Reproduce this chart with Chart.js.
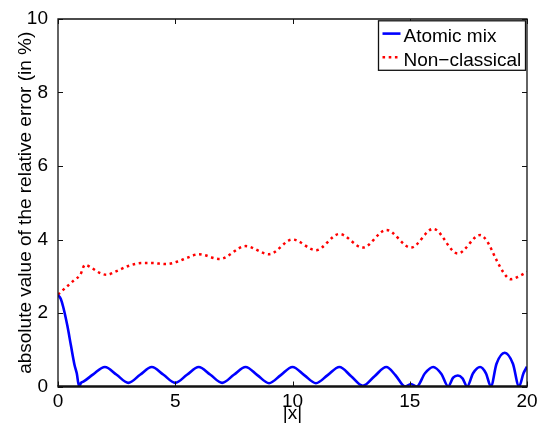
<!DOCTYPE html>
<html>
<head>
<meta charset="utf-8">
<script src="https://cdn.jsdelivr.net/npm/chart.js@4/dist/chart.umd.min.js"></script>
<style>
  html, body { margin: 0; padding: 0; background: #fff; }
  #wrap { width: 540px; height: 427px; }
</style>
</head>
<body>
<div id="wrap"><canvas id="chart" width="540" height="427"></canvas></div>
<script>
// atomic mix error curve
const atomicX = [0, 0.12, 0.22, 0.4, 0.55, 0.7, 0.8, 0.9, 0.98, 1.08, 1.5, 2, 2.5, 3, 3.5, 4, 4.5, 5, 5.5, 6, 6.5, 7, 7.5, 8,
  8.5, 9, 9.5, 10, 10.5, 11, 11.5, 12, 12.5, 13, 13.5, 14, 14.4, 14.8, 15.05, 15.3, 15.65, 16, 16.35, 16.64,
  16.85, 17.05, 17.25, 17.45, 17.7, 18, 18.25, 18.46, 18.7, 19.05, 19.4, 19.66, 19.85, 20];
const atomicY = [2.49, 2.38, 2.17, 1.65, 1.12, 0.6, 0.36, 0.0, 0.1, 0.13, 0.33, 0.53, 0.32, 0.1, 0.32, 0.53, 0.32, 0.1, 0.32, 0.53, 0.32, 0.1, 0.32, 0.53,
  0.31, 0.09, 0.31, 0.53, 0.31, 0.09, 0.31, 0.53, 0.28, 0.02, 0.28, 0.53, 0.3, 0.0, 0.07, 0.0, 0.36, 0.53, 0.34, 0.0,
  0.24, 0.3, 0.22, 0.0, 0.36, 0.53, 0.36, 0.0, 0.62, 0.92, 0.62, 0.0, 0.36, 0.54];

// non-classical error curve
const nonClassicalX = [0, 0.45, 0.7, 0.95, 1.15, 1.4, 1.75, 2.07, 2.5, 3, 3.6, 4, 4.6, 5.1, 5.5, 6, 6.9, 8, 9, 10, 11, 12,
  13, 14, 15.05, 16, 17.05, 18, 18.3, 18.7, 19, 19.3, 19.6, 20];
const nonClassicalY = [2.5, 2.76, 2.9, 3.04, 3.31, 3.24, 3.1, 3.04, 3.14, 3.28, 3.36, 3.36, 3.33, 3.4, 3.5, 3.6, 3.47, 3.82, 3.6, 4.0, 3.71, 4.15,
  3.78, 4.26, 3.78, 4.29, 3.62, 4.12, 3.95, 3.44, 3.1, 2.92, 2.98, 3.12];

const xTicks = [0, 5, 10, 15, 20];
const yTicks = [0, 2, 4, 6, 8, 10];

const FONT = "'Liberation Sans', Arial, Helvetica, sans-serif";

function toPoints(xs, ys) {
  return xs.map((x, i) => ({ x: x, y: ys[i] }));
}

// matlab-like box: frame, inward ticks on all sides, legend inside top right
const boxPlugin = {
  id: 'boxPlugin',
  afterDatasetsDraw(chart) {
    const ctx = chart.ctx;
    const a = chart.chartArea;
    const sx = chart.scales.x;
    const sy = chart.scales.y;
    const tl = 5;

    ctx.save();
    ctx.strokeStyle = '#111';
    ctx.lineWidth = 1.3;
    ctx.beginPath();
    ctx.moveTo(a.left, a.bottom);
    ctx.lineTo(a.left, a.top);
    ctx.lineTo(a.right, a.top);
    ctx.lineTo(a.right, a.bottom);
    ctx.stroke();

    ctx.lineWidth = 2.4;
    ctx.beginPath();
    ctx.moveTo(a.left - 0.6, a.bottom);
    ctx.lineTo(a.right + 0.6, a.bottom);
    ctx.stroke();

    ctx.lineWidth = 1;
    ctx.beginPath();
    xTicks.forEach((v) => {
      const px = Math.round(sx.getPixelForValue(v)) + 0.5;
      ctx.moveTo(px, a.bottom); ctx.lineTo(px, a.bottom - tl);
      ctx.moveTo(px, a.top); ctx.lineTo(px, a.top + tl);
    });
    yTicks.forEach((v) => {
      const py = Math.round(sy.getPixelForValue(v)) + 0.5;
      ctx.moveTo(a.left, py); ctx.lineTo(a.left + tl, py);
      ctx.moveTo(a.right, py); ctx.lineTo(a.right - tl, py);
    });
    ctx.stroke();

    // legend
    const bw = 147, bh = 49.5;
    const bx = a.right - 1.5 - bw;
    const by = a.top + 1.8;
    ctx.fillStyle = '#fff';
    ctx.fillRect(bx, by, bw, bh);
    ctx.strokeStyle = '#111';
    ctx.lineWidth = 1.3;
    ctx.strokeRect(bx, by, bw, bh);

    ctx.font = '19px ' + FONT;
    ctx.textBaseline = 'alphabetic';
    ctx.textAlign = 'left';
    chart.data.datasets.forEach((ds, i) => {
      const ly = by + 12.8 + i * 23.6;
      ctx.strokeStyle = ds.borderColor;
      ctx.lineWidth = ds.borderWidth;
      ctx.setLineDash(ds.borderDash || []);
      ctx.beginPath();
      ctx.moveTo(bx + 4, ly);
      ctx.lineTo(bx + 22, ly);
      ctx.stroke();
      ctx.setLineDash([]);
      ctx.fillStyle = '#000';
      ctx.fillText(ds.label, bx + 25, ly + 8.6);
    });
    ctx.restore();
  }
};

new Chart('chart', {
  type: 'line',
  data: {
    datasets: [
      {
        label: 'Atomic mix',
        data: toPoints(atomicX, atomicY),
        borderColor: '#0000ff',
        borderWidth: 2.6,
        pointRadius: 0,
        cubicInterpolationMode: 'monotone',
        fill: false,
      },
      {
        label: 'Non\u2212classical',
        data: toPoints(nonClassicalX, nonClassicalY),
        borderColor: '#ff0000',
        borderWidth: 2.5,
        borderDash: [2.6, 3.6],
        pointRadius: 0,
        cubicInterpolationMode: 'monotone',
        fill: false,
      },
    ],
  },
  options: {
    responsive: false,
    animation: false,
    layout: { padding: { top: 19, right: 13, left: 0, bottom: 0 } },
    plugins: {
      legend: { display: false },
      tooltip: { enabled: false },
    },
    scales: {
      x: {
        type: 'linear',
        min: 0,
        max: 20,
        afterBuildTicks: (scale) => { scale.ticks = xTicks.map((v) => ({ value: v })); },
        afterFit: (scale) => { scale.height = 40.5; },
        grid: { display: false },
        border: { display: false },
        ticks: { color: '#000', padding: -4, maxRotation: 0, font: { family: FONT, size: 19 } },
        title: {
          display: true,
          text: '|x|',
          color: '#000',
          padding: { top: 0, bottom: 1.5 },
          font: { family: FONT, size: 19 },
        },
      },
      y: {
        type: 'linear',
        min: 0,
        max: 10,
        afterBuildTicks: (scale) => { scale.ticks = yTicks.map((v) => ({ value: v })); },
        afterFit: (scale) => { scale.width = 58; },
        grid: { display: false },
        border: { display: false },
        ticks: { color: '#000', padding: 2, font: { family: FONT, size: 19 } },
        title: {
          display: true,
          text: 'absolute value of the relative error (in %)',
          color: '#000',
          padding: { top: 14, bottom: 0 },
          font: { family: FONT, size: 19 },
        },
      },
    },
  },
  plugins: [boxPlugin],
});
</script>
</body>
</html>
